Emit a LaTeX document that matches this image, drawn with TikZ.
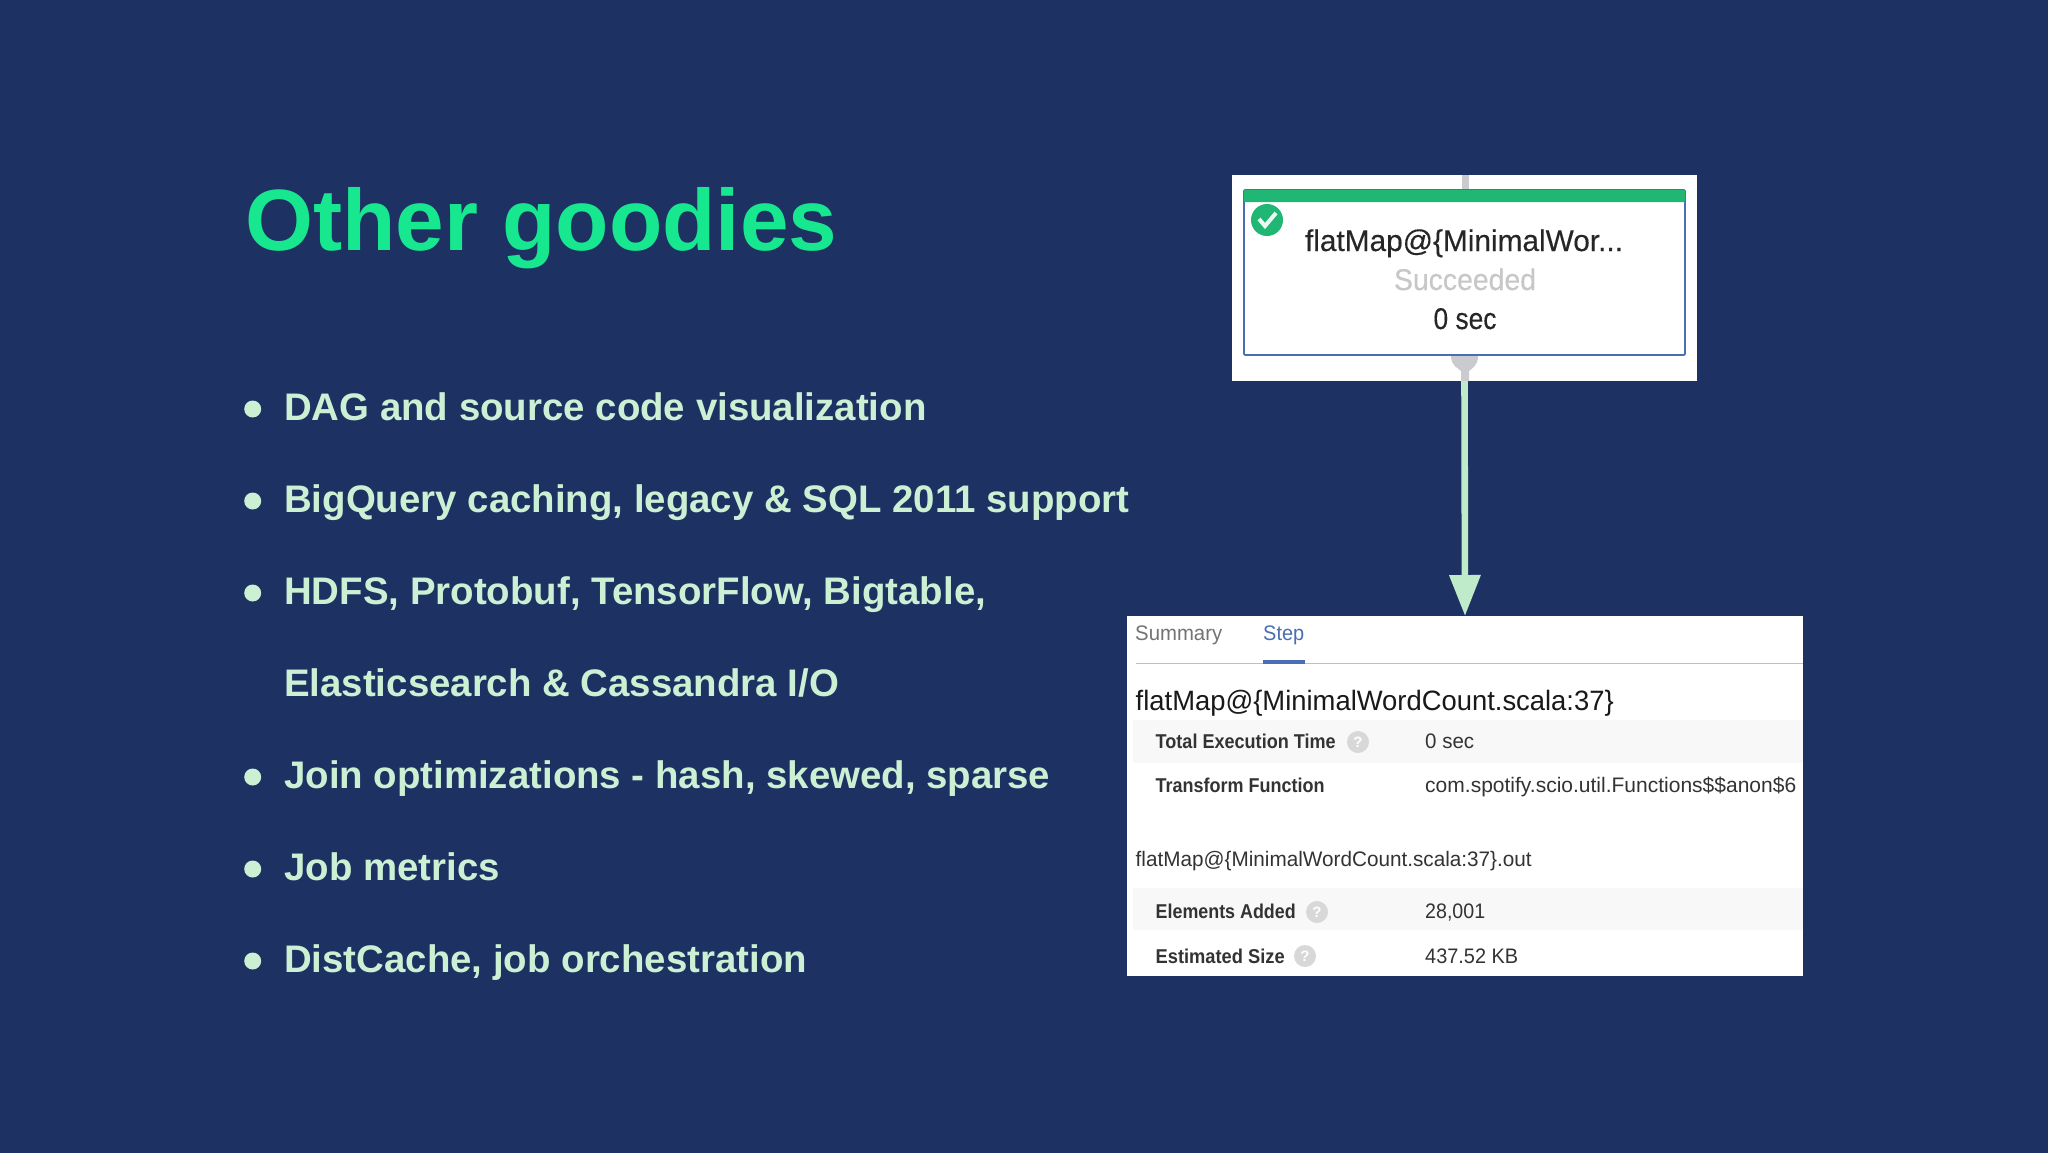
\documentclass[tikz,border=0pt]{standalone}
\usepackage{fontspec}
\usepackage{graphicx}
\usetikzlibrary{arrows.meta}
\setmainfont{Liberation Sans}
\newfontfamily\uimed[FakeBold=0.25]{Liberation Sans}
\definecolor{bg}{HTML}{1E3163}
\definecolor{titlegreen}{HTML}{17E78F}
\definecolor{mint}{HTML}{CCF0D3}
\definecolor{arrowmint}{HTML}{BFEBCA}
\definecolor{barGreen}{HTML}{20B673}
\definecolor{boxBlue}{HTML}{4A6DB5}
\definecolor{stub}{HTML}{C9CBCF}
\definecolor{band}{HTML}{F8F8F8}
\definecolor{helpgray}{HTML}{D8D8D8}
\newcommand{\fitw}[2]{\resizebox{#1pt}{\height}{#2}}
\tikzset{
  panel/.style={fill=white,draw=none,inner sep=0pt,outer sep=0pt,anchor=north west},
  title/.style={anchor=base west,inner sep=0pt,text=titlegreen,font=\fontsize{87}{90}\selectfont\bfseries},
  body/.style={anchor=base west,inner sep=0pt,text=mint,font=\fontsize{38.4}{42}\selectfont\bfseries},
  dot/.style={circle,fill=mint,draw=none,minimum size=17pt,inner sep=0pt},
  card/.style={anchor=base,inner sep=0pt,font=\fontsize{30}{34}\uimed},
  ui/.style={anchor=base west,inner sep=0pt,text=black!80,font=\fontsize{21}{24}\selectfont},
  uib/.style={ui,font=\fontsize{20}{24}\selectfont\bfseries},
  help/.style={circle,fill=helpgray,draw=none,minimum size=22pt,inner sep=0pt,text=white,font=\fontsize{15}{16}\selectfont\bfseries},
  flow/.style={draw=arrowmint,line width=6.6pt,-{Triangle[width=30pt,length=41pt,fill=arrowmint]}},
}
\begin{document}
\begin{tikzpicture}[x=1pt,y=-1pt]
\useasboundingbox (0,0) rectangle (2048,1152);
\fill[bg] (-5,-5) rectangle (2053,1157);

\node[title] (ttl) at (245,250) {\fitw{592}{Other goodies}};

\foreach \n/\y in {a/420,b/512,c/604,e/788,f/880,g/972}{\node[dot] (dot\n) at (252.7,\y-11) {};}
\node[body] (l1) at (284,420) {DAG and source code visualization};
\node[body] (l2) at (284,512) {BigQuery caching, legacy \& SQL 2011 support};
\node[body] (l3) at (284,604) {HDFS, Protobuf, TensorFlow, Bigtable,};
\node[body] (l4) at (284,696) {Elasticsearch \& Cassandra I/O};
\node[body] (l5) at (284,788) {Join optimizations - hash, skewed, sparse};
\node[body] (l6) at (284,880) {Job metrics};
\node[body] (l7) at (284,972) {DistCache, job orchestration};

% top panel
\node[panel,minimum width=465pt,minimum height=206pt] (top) at (1232,175) {};
\fill[stub] (1461.5,175) rectangle (1468.5,191);
\node[draw=boxBlue,line width=1.6pt,fill=white,rounded corners=1pt,minimum width=441pt,minimum height=165pt,inner sep=0pt,outer sep=0pt,anchor=north west] (card) at (1244,190) {};
\fill[stub] (1451,356) -- (1478,356) .. controls (1478,366) and (1472,368) .. (1469,371) -- (1469,381) -- (1461,381) -- (1461,371) .. controls (1458,368) and (1451,366) .. (1451,356) -- cycle;
\fill[barGreen,rounded corners=1pt] (1244,190) rectangle (1685,202);
\node[circle,fill=barGreen,minimum size=32pt,inner sep=0pt] (ok) at (1267,220) {};
\draw[white!90!barGreen,line width=4pt] (1259,219) -- (1265,226) -- (1276,213);
\node[card,text=black!85] (c1) at (1464,251) {\fitw{318}{flatMap@\{MinimalWor...}};
\node[card,text=black!22] (c2) at (1465,290) {\fitw{142}{Succeeded}};
\node[card,text=black!85] (c3) at (1465,329) {\fitw{63}{0 sec}};

% bottom panel
\node[panel,minimum width=676pt,minimum height=360pt] (bot) at (1127,616) {};
\fill[band] (1133,720) rectangle (1803,763);
\fill[band] (1133,888) rectangle (1803,930);
\draw[black!25,line width=1.4pt] (1136,663.5) -- (1803,663.5);
\fill[boxBlue] (1263,660) rectangle (1305,664);
\node[ui,text=black!55] (s1) at (1135,640) {\fitw{87}{Summary}};
\node[ui,text=boxBlue] (s2) at (1263,640) {\fitw{41}{Step}};
\node[ui,text=black!90,font=\fontsize{28}{30}\selectfont] (h1) at (1135.5,710) {\fitw{478}{flatMap@\{MinimalWordCount.scala:37\}}};
\node[uib] (r1) at (1155.5,748) {\fitw{180}{Total Execution Time}};
\node[help] (q1) at (1358,742) {?};
\node[ui] (v1) at (1425,748) {\fitw{49}{0 sec}};
\node[uib] (r2) at (1155.5,792) {\fitw{169}{Transform Function}};
\node[ui] (v2) at (1425,792) {\fitw{371}{com.spotify.scio.util.Functions\$\$anon\$6}};
\node[ui] (h2) at (1135.5,866) {\fitw{396}{flatMap@\{MinimalWordCount.scala:37\}.out}};
\node[uib] (r3) at (1155.5,918) {\fitw{140}{Elements Added}};
\node[help] (q2) at (1317,912) {?};
\node[ui] (v3) at (1425,918) {\fitw{60}{28,001}};
\node[uib] (r4) at (1155.5,963) {\fitw{129}{Estimated Size}};
\node[help] (q3) at (1305,956) {?};
\node[ui] (v4) at (1425,963) {\fitw{93}{437.52 KB}};

\draw[flow] (top.south) -- (bot.north);
\end{tikzpicture}
\end{document}
